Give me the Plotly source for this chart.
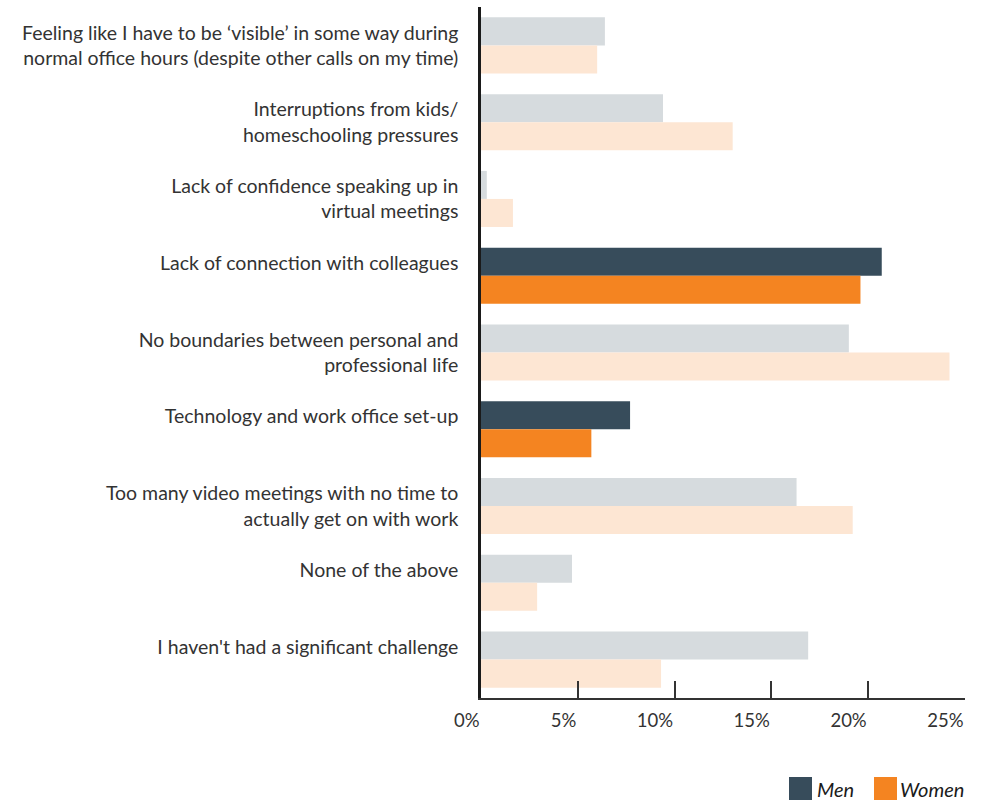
import plotly.graph_objects as go

categories = [
    "Feeling like I have to be ‘visible’ in some way during<br>normal office hours (despite other calls on my time)",
    "Interruptions from kids/<br>homeschooling pressures",
    "Lack of confidence speaking up in<br>virtual meetings",
    "Lack of connection with colleagues",
    "No boundaries between personal and<br>professional life",
    "Technology and work office set-up",
    "Too many video meetings with no time to<br>actually get on with work",
    "None of the above",
    "I haven't had a significant challenge",
]
men = [6.4, 9.4, 0.3, 20.7, 19.0, 7.7, 16.3, 4.7, 16.9]
women = [6.0, 13.0, 1.65, 19.6, 24.2, 5.7, 19.2, 2.9, 9.3]
highlighted = ["Lack of connection with colleagues", "Technology and work office set-up"]

x_ticks = [0, 5, 10, 15, 20, 25]
x_tick_labels = ["0%", "5%", "10%", "15%", "20%", "25%"]

MEN_DARK, MEN_LIGHT = "#374c5b", "#d6dbde"
WOMEN_DARK, WOMEN_LIGHT = "#f48421", "#fde6d3"

men_colors = [MEN_DARK if c in highlighted else MEN_LIGHT for c in categories]
women_colors = [WOMEN_DARK if c in highlighted else WOMEN_LIGHT for c in categories]

# single-line labels sit at the first-line position in the original layout
tick_text = [c if "<br>" in c else c + "<br> " for c in categories]

fig = go.Figure()
fig.add_trace(go.Bar(y=categories, x=men, orientation="h", name="Men",
                     marker=dict(color=men_colors, line=dict(width=0)), showlegend=False))
fig.add_trace(go.Bar(y=categories, x=women, orientation="h", name="Women",
                     marker=dict(color=women_colors, line=dict(width=0)), showlegend=False))

FONT = "Lato, 'Open Sans', sans-serif"
fig.update_layout(
    width=991, height=800,
    margin=dict(l=481, r=26, t=7, b=102),
    barmode="group", bargap=0.27, bargroupgap=0,
    plot_bgcolor="white", paper_bgcolor="white",
    font=dict(family=FONT, size=18, color="#333333"),
    xaxis=dict(range=[0, 25], tickvals=x_ticks, ticktext=x_tick_labels,
               showgrid=False, zeroline=False, showline=True, linecolor="#333333", linewidth=1.5,
               ticks="inside", ticklen=17, tickcolor="#333333", tickwidth=1.5,
               ticklabelposition="outside left", ticklabelstandoff=5,
               tickfont=dict(size=18.5, color="#333333"),
               fixedrange=True),
    yaxis=dict(autorange="reversed", showgrid=False, zeroline=False,
               showline=True, linecolor="#1a1a1a", linewidth=2.5, ticks="",
               tickvals=categories, ticktext=tick_text,
               ticklabelstandoff=16, tickfont=dict(size=19.5, color="#333333")),
    shapes=[
        dict(type="rect", xref="paper", yref="paper", x0=(789-481)/484, x1=(812-481)/484,
             y0=-(777-698)/691, y1=-(800-698)/691, fillcolor=MEN_DARK, line=dict(width=0)),
        dict(type="rect", xref="paper", yref="paper", x0=(874-481)/484, x1=(897-481)/484,
             y0=-(777-698)/691, y1=-(800-698)/691, fillcolor=WOMEN_DARK, line=dict(width=0)),
    ],
    annotations=[
        dict(text="<i>Men</i>", xref="paper", yref="paper", x=(815-481)/484, y=-(788.5-698)/691,
             xanchor="left", yanchor="middle", showarrow=False, font=dict(size=20, color="#1a1a1a")),
        dict(text="<i>Women</i>", xref="paper", yref="paper", x=(898-481)/484, y=-(788.5-698)/691,
             xanchor="left", yanchor="middle", showarrow=False, font=dict(size=20, color="#1a1a1a")),
    ],
)

fig.write_html("out.html")
